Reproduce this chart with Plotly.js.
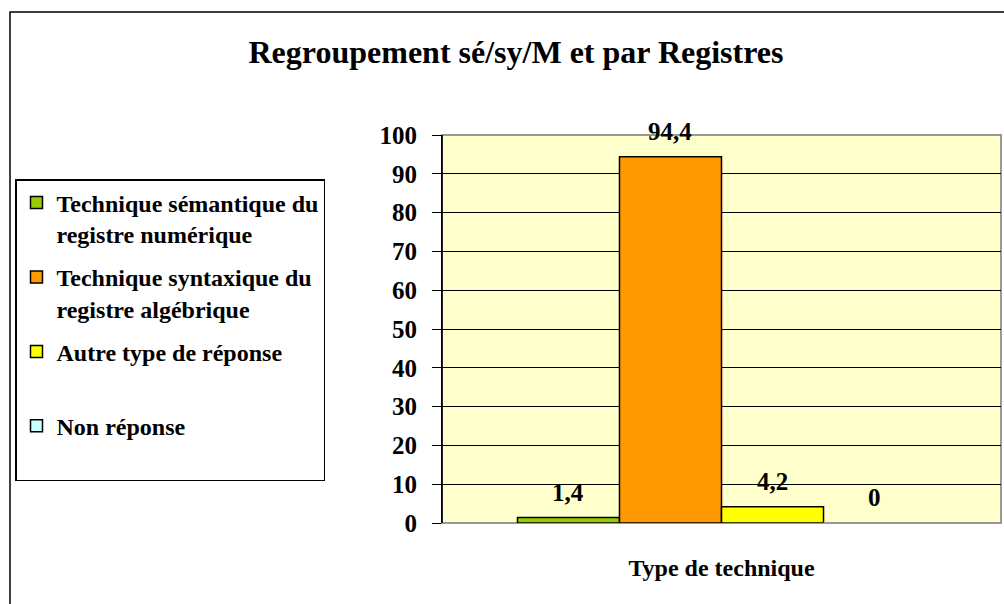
<!DOCTYPE html>
<html>
<head>
<meta charset="utf-8">
<script src="https://cdn.plot.ly/plotly-3.0.1.min.js"></script>
<style>html,body{margin:0;padding:0;background:#fff;}#chart{width:1004px;height:604px;}</style>
</head>
<body>
<div id="chart"></div>
<script>
// ---- data ----
const category = ["Type de technique"];
const seriesNames = [
  "Technique sémantique du<br>registre numérique",
  "Technique syntaxique du<br>registre algébrique",
  "Autre type de réponse<br>&nbsp;",
  "Non réponse<br>&nbsp;"
];
const seriesValues = [1.4, 94.4, 4.2, 0];
const valueLabels = ["1,4", "94,4", "4,2", "0"];
const seriesColors = ["#99CC00", "#FF9900", "#FFFF00", "#CCFFFF"];
const yTicks = [0, 10, 20, 30, 40, 50, 60, 70, 80, 90, 100];

// ---- layout constants ----
const W = 1004, H = 604;
const M = {l: 442, r: 3, t: 135, b: 81};
const plotW = W - M.l - M.r, plotH = H - M.t - M.b;
const bargap = 0.27;
const nS = seriesValues.length;
const barPx = plotW * (1 - bargap) / nS;
const FONT = "Liberation Serif, Times New Roman, serif";

const traces = seriesValues.map((v, i) => ({
  type: "bar",
  name: seriesNames[i],
  x: category,
  y: [v],
  marker: {color: seriesColors[i], line: {color: "#000", width: 1.5}},
  legendgroup: "g" + i,
  hoverinfo: "skip"
}));

const annotations = seriesValues.map((v, i) => ({
  xref: "x", yref: "y",
  x: category[0], y: v,
  xshift: (i - (nS - 1) / 2) * barPx,
  yshift: 10,
  yanchor: "bottom",
  text: valueLabels[i],
  showarrow: false,
  font: {family: FONT, size: 25, color: "#000", weight: "bold"}
}));

// end of last non-zero-height bar in paper units (zero bars show no outline)
const lastNonZero = seriesValues.reduce((a, v, i) => v !== 0 ? i : a, 0);
const zeroEdgeX0 = bargap / 2 + (lastNonZero + 1) * (1 - bargap) / nS;

const layout = {
  width: W, height: H,
  margin: M,
  paper_bgcolor: "#fff",
  plot_bgcolor: "#FFFFCC",
  barmode: "group",
  bargap: bargap,
  bargroupgap: 0,
  showlegend: true,
  title: {
    text: "Regroupement sé/sy/M et par Registres",
    font: {family: FONT, size: 32, color: "#000", weight: "bold"},
    xref: "container", yref: "container",
    x: 516 / W, xanchor: "center",
    y: 1 - 52 / H, yanchor: "middle"
  },
  xaxis: {
    type: "category",
    range: [-0.5, 0.5],
    showticklabels: false,
    ticks: "",
    showgrid: false,
    zeroline: false,
    showline: false,
    title: {text: "Type de technique", font: {family: FONT, size: 24, color: "#000", weight: "bold"}, standoff: 36},
    automargin: false,
    fixedrange: true
  },
  yaxis: {
    range: [0, 100],
    tickvals: yTicks,
    ticktext: yTicks.map(String),
    ticks: "outside",
    ticklen: 9,
    tickcolor: "#000",
    tickwidth: 1,
    ticklabelstandoff: 10,
    tickfont: {family: FONT, size: 25, color: "#000", weight: "bold"},
    showgrid: true,
    gridcolor: "#000",
    gridwidth: 1,
    zeroline: false,
    showline: true,
    linecolor: "#000",
    linewidth: 1,
    automargin: false,
    fixedrange: true
  },
  legend: {
    x: (15 - M.l) / plotW, xanchor: "left",
    y: (H - M.b - 179) / plotH, yanchor: "top",
    bgcolor: "#fff",
    bordercolor: "#000",
    borderwidth: 1.5,
    valign: "top",
    traceorder: "grouped",
    tracegroupgap: 9,
    font: {family: FONT, size: 24, color: "#000", weight: "bold"}
  },
  shapes: [
    {type: "rect", xref: "paper", yref: "paper", x0: 0, x1: 1, y0: 0, y1: 1,
     line: {color: "#999", width: 2}, layer: "below"},
    {type: "line", xref: "paper", yref: "paper", x0: zeroEdgeX0, x1: 1, y0: 0, y1: 0,
     line: {color: "#999", width: 2}, layer: "above"},
    {type: "line", xref: "paper", yref: "paper", x0: 0, x1: 0, y0: 0, y1: 1,
     line: {color: "#000", width: 1.5}, layer: "above"},
    {type: "rect", xref: "paper", yref: "paper",
     x0: (10 - M.l) / plotW, x1: 1.2,
     y0: -0.6, y1: (H - M.b - 12) / plotH,
     line: {color: "#000", width: 1.5}, layer: "below"}
  ],
  annotations: annotations
};

Plotly.newPlot("chart", traces, layout, {displayModeBar: false, staticPlot: true});
</script>
</body>
</html>
